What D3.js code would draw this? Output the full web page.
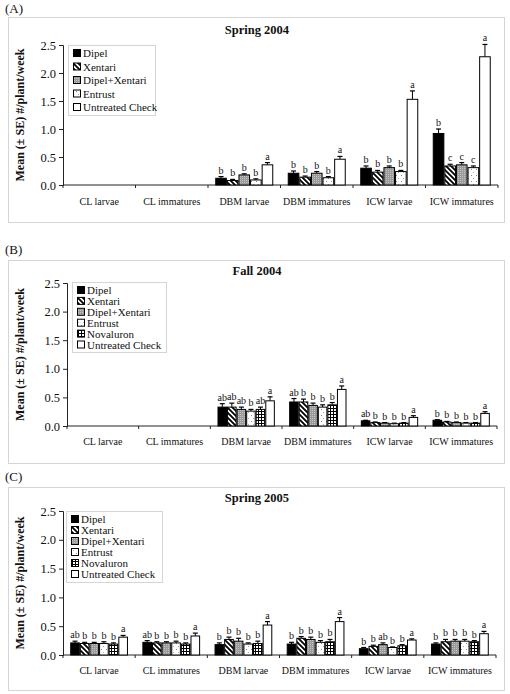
<!DOCTYPE html>
<html><head><meta charset="utf-8">
<script src="https://cdn.jsdelivr.net/npm/d3@7"></script>
<style>body{margin:0;background:#fff}svg{display:block}text{font-family:"Liberation Serif","Times New Roman",serif;fill:#111}</style>
</head><body><svg id="c" width="510" height="694"></svg>
<script>
const categories = ["CL larvae","CL immatures","DBM larvae","DBM immatures","ICW larvae","ICW immatures"];
const seriesA = ["Dipel","Xentari","Dipel+Xentari","Entrust","Untreated Check"];
const seriesBC = ["Dipel","Xentari","Dipel+Xentari","Entrust","Novaluron","Untreated Check"];
const yTicks = [0,0.5,1.0,1.5,2.0,2.5];

// Panel A (Spring 2004): means per series across categories
const meanA_Dipel     = [0,0,0.12,0.21,0.30,0.92];
const meanA_Xentari   = [0,0,0.08,0.14,0.23,0.34];
const meanA_DX        = [0,0,0.18,0.21,0.31,0.36];
const meanA_Entrust   = [0,0,0.09,0.13,0.24,0.31];
const meanA_Untreated = [0,0,0.36,0.46,1.53,2.29];
const seA_Dipel       = [0,0,0.03,0.04,0.04,0.08];
const seA_Xentari     = [0,0,0.02,0.02,0.03,0.03];
const seA_DX          = [0,0,0.02,0.03,0.03,0.04];
const seA_Entrust     = [0,0,0.02,0.02,0.02,0.03];
const seA_Untreated   = [0,0,0.04,0.05,0.15,0.22];
const letA_Dipel      = ["","","b","b","b","b"];
const letA_Xentari    = ["","","b","b","b","c"];
const letA_DX         = ["","","b","b","b","c"];
const letA_Entrust    = ["","","b","b","b","c"];
const letA_Untreated  = ["","","a","a","a","a"];

// Panel B (Fall 2004)
const meanB_Dipel     = [0,0,0.33,0.42,0.09,0.10];
const meanB_Xentari   = [0,0,0.33,0.42,0.06,0.07];
const meanB_DX        = [0,0,0.29,0.36,0.05,0.06];
const meanB_Entrust   = [0,0,0.26,0.33,0.04,0.05];
const meanB_Novaluron = [0,0,0.29,0.37,0.05,0.05];
const meanB_Untreated = [0,0,0.44,0.64,0.15,0.22];
const seB_Dipel       = [0,0,0.06,0.06,0.01,0.01];
const seB_Xentari     = [0,0,0.07,0.05,0.01,0.01];
const seB_DX          = [0,0,0.04,0.04,0.01,0.01];
const seB_Entrust     = [0,0,0.03,0.04,0.01,0.01];
const seB_Novaluron   = [0,0,0.04,0.04,0.01,0.01];
const seB_Untreated   = [0,0,0.07,0.06,0.03,0.03];
const letB_Dipel      = ["","","ab","ab","ab","b"];
const letB_Xentari    = ["","","ab","b","b","b"];
const letB_DX         = ["","","ab","b","b","b"];
const letB_Entrust    = ["","","b","b","b","b"];
const letB_Novaluron  = ["","","ab","b","b","b"];
const letB_Untreated  = ["","","a","a","a","a"];

// Panel C (Spring 2005)
const meanC_Dipel     = [0.21,0.22,0.18,0.19,0.11,0.19];
const meanC_Xentari   = [0.20,0.21,0.27,0.29,0.15,0.23];
const meanC_DX        = [0.20,0.21,0.24,0.27,0.18,0.24];
const meanC_Entrust   = [0.20,0.21,0.19,0.22,0.13,0.24];
const meanC_Novaluron = [0.19,0.19,0.20,0.23,0.16,0.23];
const meanC_Untreated = [0.31,0.33,0.52,0.58,0.26,0.37];
const seC_Dipel       = [0.03,0.03,0.03,0.03,0.02,0.02];
const seC_Xentari     = [0.02,0.02,0.04,0.03,0.02,0.04];
const seC_DX          = [0.02,0.02,0.05,0.04,0.03,0.03];
const seC_Entrust     = [0.03,0.03,0.02,0.03,0.01,0.03];
const seC_Novaluron   = [0.02,0.02,0.04,0.04,0.02,0.02];
const seC_Untreated   = [0.03,0.05,0.06,0.07,0.02,0.04];
const letC_Dipel      = ["ab","ab","b","b","b","b"];
const letC_Xentari    = ["b","b","b","b","b","b"];
const letC_DX         = ["b","b","b","b","ab","b"];
const letC_Entrust    = ["b","b","b","b","b","b"];
const letC_Novaluron  = ["b","b","b","b","b","b"];
const letC_Untreated  = ["a","a","a","a","a","a"];

const panels = [
  {tag:"(A)", title:"Spring 2004", series:seriesA,
   means:[meanA_Dipel,meanA_Xentari,meanA_DX,meanA_Entrust,meanA_Untreated],
   ses:[seA_Dipel,seA_Xentari,seA_DX,seA_Entrust,seA_Untreated],
   lets:[letA_Dipel,letA_Xentari,letA_DX,letA_Entrust,letA_Untreated],
   fills:["dipel","xentari","dx","entrust","untreated"],
   box:[8,17,504,222], tagY:13, titleY:34, x0:63, x1:498, yTop:45, yBot:185, labY:205,
   leg:[68,45,87,70], legY0:53, legStep:13.5},
  {tag:"(B)", title:"Fall 2004", series:seriesBC,
   means:[meanB_Dipel,meanB_Xentari,meanB_DX,meanB_Entrust,meanB_Novaluron,meanB_Untreated],
   ses:[seB_Dipel,seB_Xentari,seB_DX,seB_Entrust,seB_Novaluron,seB_Untreated],
   lets:[letB_Dipel,letB_Xentari,letB_DX,letB_Entrust,letB_Novaluron,letB_Untreated],
   fills:["dipel","xentari","dx","entrust","nova","untreated"],
   box:[8,260,504,463], tagY:254, titleY:275, x0:67, x1:497, yTop:283, yBot:426, labY:445,
   leg:[72,282,94,70], legY0:290, legStep:10.9},
  {tag:"(C)", title:"Spring 2005", series:seriesBC,
   means:[meanC_Dipel,meanC_Xentari,meanC_DX,meanC_Entrust,meanC_Novaluron,meanC_Untreated],
   ses:[seC_Dipel,seC_Xentari,seC_DX,seC_Entrust,seC_Novaluron,seC_Untreated],
   lets:[letC_Dipel,letC_Xentari,letC_DX,letC_Entrust,letC_Novaluron,letC_Untreated],
   fills:["dipel","xentari","dx","entrust","nova","untreated"],
   box:[8,487,504,690], tagY:481, titleY:502, x0:63, x1:496, yTop:511, yBot:655, labY:674,
   leg:[66,511,96,71], legY0:519, legStep:11}
];

const svg = d3.select("#c");
const defs = svg.append("defs");
// patterns
let p = defs.append("pattern").attr("id","xentari").attr("patternUnits","userSpaceOnUse").attr("width",5).attr("height",5);
p.append("rect").attr("width",5).attr("height",5).attr("fill","#fff");
p.append("path").attr("d","M-1,-1 L6,6 M-1,4 L1,6 M4,-1 L6,1").attr("stroke","#000").attr("stroke-width",1.8);
p = defs.append("pattern").attr("id","dx").attr("patternUnits","userSpaceOnUse").attr("width",2).attr("height",2);
p.append("rect").attr("width",2).attr("height",2).attr("fill","#9a9a9a");
p.append("rect").attr("width",1).attr("height",1).attr("fill","#c4c4c4");
p = defs.append("pattern").attr("id","entrust").attr("patternUnits","userSpaceOnUse").attr("width",5).attr("height",6);
p.append("rect").attr("width",5).attr("height",6).attr("fill","#fff");
p.append("rect").attr("x",1).attr("y",1).attr("width",1).attr("height",1).attr("fill","#888");
p.append("rect").attr("x",3).attr("y",4).attr("width",1).attr("height",1).attr("fill","#aaa");
p = defs.append("pattern").attr("id","nova").attr("patternUnits","userSpaceOnUse").attr("width",3).attr("height",3);
p.append("rect").attr("width",3).attr("height",3).attr("fill","#fff");
p.append("path").attr("d","M0,0.5 H3 M0.5,0 V3").attr("stroke","#000").attr("stroke-width",1);
const fillOf = k => k==="dipel" ? "#000" : k==="untreated" ? "#fff" : `url(#${k})`;

panels.forEach(P => {
  const g = svg.append("g");
  const [bx0,by0,bx1,by1] = P.box;
  g.append("rect").attr("x",bx0+0.5).attr("y",by0+0.5).attr("width",bx1-bx0).attr("height",by1-by0)
    .attr("fill","none").attr("stroke","#aaa").attr("stroke-width",1).attr("stroke-dasharray","1,1");
  g.append("text").attr("x",5).attr("y",P.tagY).attr("font-size",13).text(P.tag);
  g.append("text").attr("x",257).attr("y",P.titleY).attr("text-anchor","middle").attr("font-size",12.5).attr("font-weight","bold").text(P.title);

  const x = d3.scaleBand().domain(categories).range([P.x0,P.x1]).padding(0);
  const xs = d3.scaleBand().domain(P.series).range([x.bandwidth()*0.1, x.bandwidth()*0.9]).padding(0);
  const y = d3.scaleLinear().domain([0,2.5]).range([P.yBot,P.yTop]);

  // y axis
  const ya = g.append("g").attr("transform",`translate(${P.x0},0)`)
    .call(d3.axisLeft(y).tickValues(yTicks).tickFormat(d3.format(".1f")).tickSize(4).tickPadding(3));
  ya.select(".domain").attr("stroke","#222");
  ya.selectAll("line").attr("stroke","#222");
  ya.selectAll("text").attr("font-size",12.5).attr("font-family","Liberation Serif").attr("fill","#111");
  // x axis
  const xa = g.append("g").attr("transform",`translate(0,${P.yBot})`)
    .call(d3.axisBottom(x).tickSize(0).tickPadding(0).tickFormat(""));
  xa.select(".domain").attr("stroke","#222").attr("d",`M${P.x0},0H${P.x1}`);
  const bounds = categories.map(c => x(c)).concat([P.x1]);
  xa.selectAll(".btick").data(bounds).enter().append("line").attr("class","btick")
    .attr("x1",d=>d).attr("x2",d=>d).attr("y1",0).attr("y2",3).attr("stroke","#222");
  g.selectAll(".clab").data(categories).enter().append("text")
    .attr("x",d=>x(d)+x.bandwidth()/2).attr("y",P.labY).attr("text-anchor","middle").attr("font-size",10).text(d=>d);

  // y title
  g.append("text").attr("transform",`translate(24,${(P.yTop+P.yBot)/2}) rotate(-90)`)
    .attr("text-anchor","middle").attr("font-size",12).attr("font-weight","bold").text("Mean (\u00b1 SE) #/plant/week");

  // bars
  P.series.forEach((s,si) => {
    const rows = categories.map((c,ci) => ({c, v:P.means[si][ci], se:P.ses[si][ci], l:P.lets[si][ci]})).filter(d => d.v>0);
    const gg = g.append("g");
    const bw = xs.bandwidth();
    gg.selectAll("line.eb").data(rows).enter().append("line")
      .attr("x1",d=>x(d.c)+xs(s)+bw/2).attr("x2",d=>x(d.c)+xs(s)+bw/2)
      .attr("y1",d=>y(d.v)).attr("y2",d=>y(d.v+d.se)).attr("stroke","#000").attr("stroke-width",1);
    gg.selectAll("line.cap").data(rows).enter().append("line")
      .attr("x1",d=>x(d.c)+xs(s)+bw/2-2.5).attr("x2",d=>x(d.c)+xs(s)+bw/2+2.5)
      .attr("y1",d=>y(d.v+d.se)).attr("y2",d=>y(d.v+d.se)).attr("stroke","#000").attr("stroke-width",1.2);
    gg.selectAll("rect").data(rows).enter().append("rect")
      .attr("x",d=>x(d.c)+xs(s)+0.5).attr("width",bw-1)
      .attr("y",d=>y(d.v)).attr("height",d=>y(0)-y(d.v))
      .attr("fill",fillOf(P.fills[si])).attr("stroke","#000").attr("stroke-width",1);
    gg.selectAll("text").data(rows).enter().append("text")
      .attr("x",d=>x(d.c)+xs(s)+bw/2).attr("y",d=>y(d.v+d.se)-3)
      .attr("text-anchor","middle").attr("font-size",10).text(d=>d.l);
  });

  // legend
  const [lx,ly,lw,lh] = P.leg;
  g.append("rect").attr("x",lx+0.5).attr("y",ly+0.5).attr("width",lw).attr("height",lh)
    .attr("fill","#fff").attr("stroke","#aaa").attr("stroke-dasharray","1,1");
  P.series.forEach((s,si) => {
    const yy = P.legY0 + si*P.legStep;
    g.append("rect").attr("x",lx+5.5).attr("y",yy-3.5).attr("width",7).attr("height",7)
      .attr("fill",fillOf(P.fills[si])).attr("stroke","#000").attr("stroke-width",1);
    g.append("text").attr("x",lx+15).attr("y",yy+4).attr("font-size",11).text(s);
  });
});
</script></body></html>
